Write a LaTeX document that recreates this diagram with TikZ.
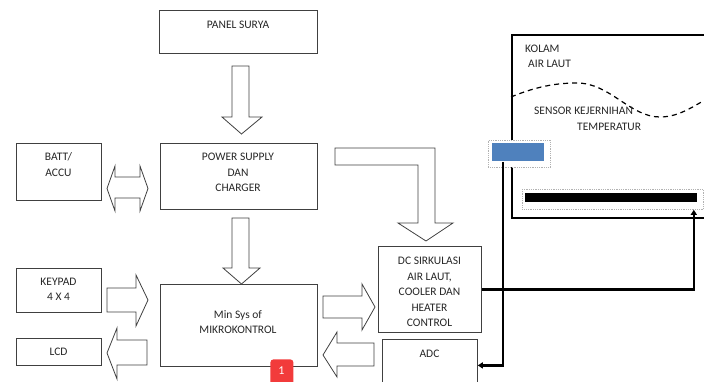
\documentclass[tikz,border=0pt]{standalone}
\usepackage{fontspec}
\setmainfont{Carlito}
\usepackage{xcolor}
\usetikzlibrary{arrows.meta}
\definecolor{sensorblue}{HTML}{4F81BD}
\definecolor{badgered}{HTML}{F23B3B}
\begin{document}
\begin{tikzpicture}[x=1pt,y=1pt,
	box/.style={draw=black!75, line width=0.8pt, inner sep=0pt, anchor=north west},
	blockarrow/.style={draw=black!75, line width=0.8pt, fill=white, line join=miter},
	txt/.style={font=\fontsize{11.5}{15.5}\selectfont, align=center, inner sep=0pt, text=black!85},
	wire/.style={line width=2.2pt, -{Triangle[length=5pt,width=6pt]}}]
		\useasboundingbox (0,0) rectangle (704,-381);
		\node [box, minimum width=158, minimum height=43] (panel) at (159,-10) {};
		\node [box, minimum width=157, minimum height=66] (ps) at (160,-143) {};
		\node [box, minimum width=85, minimum height=57] (batt) at (16,-143) {};
		\node [box, minimum width=85, minimum height=44] (keypad) at (16,-268) {};
		\node [box, minimum width=85, minimum height=27] (lcd) at (16,-338) {};
		\node [box, minimum width=157, minimum height=82] (mcu) at (160,-284) {};
		\node [box, minimum width=103, minimum height=86] (dc) at (378,-246) {};
		\node [box, minimum width=95, minimum height=52] (adc) at (382,-339) {};
		\node [txt] (panel-t) at (238,-25) {PANEL SURYA};
		\node [txt] (ps-t) at (238,-172.5) {POWER SUPPLY\\DAN\\CHARGER};
		\node [txt] (batt-t) at (58.5,-164.5) {BATT/\\ACCU};
		\node [txt] (keypad-t) at (58.5,-289.5) {KEYPAD\\4 X 4};
		\node [txt] (lcd-t) at (58.5,-352) {LCD};
		\node [txt] (mcu-t) at (238,-322) {Min Sys of\\MIKROKONTROL};
		\node [txt] (dc-t) at (429.5,-292) {DC SIRKULASI\\AIR LAUT,\\COOLER DAN\\HEATER\\CONTROL};
		\node [txt] (adc-t) at (429.5,-354) {ADC};
		\draw [blockarrow] (232,-66) -- (249,-66) -- (249,-117) -- (262,-117) -- (241.5,-134) -- (222,-117) -- (232,-117) -- cycle;
		\draw [blockarrow] (232,-218) -- (249,-218) -- (249,-268) -- (260,-268) -- (241.5,-284) -- (223,-268) -- (232,-268) -- cycle;
		\draw [blockarrow] (107,-188.5) -- (115,-166) -- (115,-177) -- (140,-177) -- (140,-166) -- (148,-188.5) -- (140,-211) -- (140,-198) -- (115,-198) -- (115,-211) -- cycle;
		\draw [blockarrow] (107,-288) -- (136,-288) -- (136,-275) -- (148,-300) -- (136,-326) -- (136,-312) -- (107,-312) -- cycle;
		\draw [blockarrow] (147,-340) -- (117,-340) -- (117,-328) -- (107,-353) -- (117,-379) -- (117,-365) -- (147,-365) -- cycle;
		\draw [blockarrow] (323,-296) -- (362,-296) -- (362,-284) -- (375,-307) -- (362,-330) -- (362,-318) -- (323,-318) -- cycle;
		\draw [blockarrow] (374,-343) -- (337,-343) -- (337,-332) -- (323,-355) -- (337,-377) -- (337,-366) -- (374,-366) -- cycle;
		\draw [blockarrow] (335,-148) -- (435,-148) -- (435,-223) -- (453,-223) -- (426,-241) -- (398,-223) -- (418,-223) -- (418,-165) -- (335,-165) -- cycle;
		\node [box, draw=black, line width=2pt, minimum width=220, minimum height=183] (kolam) at (511,-34) {};
		\draw [dashed, line width=1.2pt, dash pattern=on 5pt off 4pt] (511,-97) .. controls (535,-87) and (555,-83) .. (577,-83) .. controls (610,-83) and (630,-117) .. (660,-117) .. controls (680,-117) and (695,-105) .. (712,-96);
		\node [txt, anchor=west] (kolam-t) at (525,-49) {KOLAM};
		\node [txt, anchor=west] (air-t) at (528,-64) {AIR LAUT};
		\node [txt, anchor=west] (sensor-t) at (534,-111) {SENSOR KEJERNIHAN};
		\node [txt, anchor=west] (temp-t) at (577,-127) {TEMPERATUR};
		\node [box, draw=black!30, densely dotted, fill=white, minimum width=62, minimum height=27] (sensorframe) at (488,-140) {};
		\node [box, draw=none, fill=sensorblue, minimum width=52, minimum height=18] (sensor) at (492,-143) {};
		\node [box, draw=black!30, densely dotted, fill=white, minimum width=181, minimum height=20] (heaterframe) at (522,-189) {};
		\node [box, draw=none, fill=black, minimum width=172, minimum height=9] (heater) at (525,-193) {};
		\draw [wire] ([xshift=11]sensor.south west) |- (adc.east);
		\draw [wire] (dc.east) -| ([xshift=-10]heaterframe.south east);
		\node [box, fill=badgered, draw=none, rounded corners=3pt, minimum width=23, minimum height=30] (badge) at (270,-359) {};
		\node [text=white, inner sep=0pt, font=\fontsize{12}{12}\selectfont] (badge-t) at (281.5,-371) {1};
\end{tikzpicture}
\end{document}
